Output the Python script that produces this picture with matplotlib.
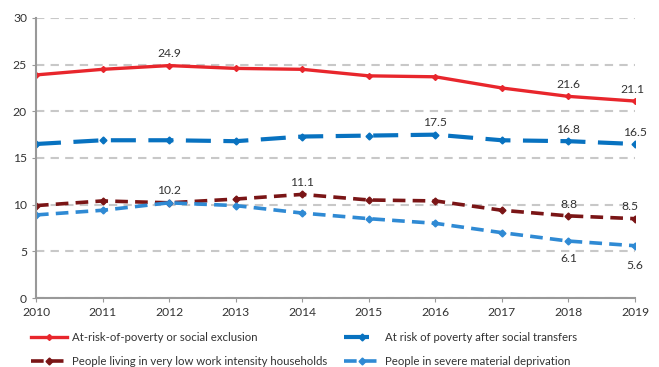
import matplotlib.pyplot as plt

plt.rcParams['font.family'] = ['Lato', 'DejaVu Sans']

years = [2010, 2011, 2012, 2013, 2014, 2015, 2016, 2017, 2018, 2019]
arope = [23.9, 24.5, 24.9, 24.6, 24.5, 23.8, 23.7, 22.5, 21.6, 21.1]
poverty_after = [16.5, 16.9, 16.9, 16.8, 17.3, 17.4, 17.5, 16.9, 16.8, 16.5]
low_work = [9.9, 10.4, 10.2, 10.6, 11.1, 10.5, 10.4, 9.4, 8.8, 8.5]
deprivation = [8.9, 9.4, 10.2, 9.9, 9.1, 8.5, 8.0, 7.0, 6.1, 5.6]

labels = ["At-risk-of-poverty or social exclusion",
          "At risk of poverty after social transfers",
          "People living in very low work intensity households",
          "People in severe material deprivation"]

fig = plt.figure(figsize=(6.59, 3.67), dpi=100)
ax = fig.add_axes([0.0546, 0.188, 0.909, 0.763])

l1, = ax.plot(years, arope, color="#E8262C", lw=2.4, marker="D", ms=3)
l2, = ax.plot(years, poverty_after, color="#0872C0", lw=3, marker="D", ms=3.5,
              dashes=(6, 3))
l3, = ax.plot(years, low_work, color="#7A1516", lw=2.6, marker="D", ms=3.5,
              dashes=(3.5, 2))
l4, = ax.plot(years, deprivation, color="#2F8AD4", lw=2.6, marker="D", ms=3.5,
              dashes=(3.5, 2))

ax.set_xlim(2010, 2019)
ax.set_ylim(0, 30)
ax.set_xticks(years)
ax.set_yticks(range(0, 31, 5))
ax.tick_params(labelsize=8.7, colors="#333333", length=3)
ax.tick_params(axis="both", color="#999999")
ax.yaxis.grid(True, color="#C8C8C8", lw=1.5, dashes=(4, 3))
ax.set_axisbelow(True)
for s in ("top", "right"):
    ax.spines[s].set_visible(False)
for s in ("left", "bottom"):
    ax.spines[s].set_color("#999999")
    ax.spines[s].set_linewidth(1.5)

# data labels (x offset in points, y offset in points)
ann = [(2012, 24.9, 0, 6), (2018, 21.6, 0, 6), (2019, 21.1, -2, 6),
       (2016, 17.5, 0, 6), (2018, 16.8, 0, 6), (2019, 16.5, 0, 6),
       (2012, 10.2, 0, 6), (2014, 11.1, 0, 6), (2018, 8.8, 0, 6),
       (2019, 8.5, -4, 6), (2018, 6.1, 0, -15), (2019, 5.6, 0, -17)]
for x, y, dx, dy in ann:
    ax.annotate(f"{y:.1f}", (x, y), xytext=(dx, dy), textcoords="offset points",
                ha="center", fontsize=8.7, color="#333333")

# legend as two separate columns so the second column sits where it should
leg_kw = dict(loc="lower left", frameon=False, fontsize=8.2, handlelength=3.2,
              handletextpad=0.4, labelspacing=1.1, labelcolor="#333333",
              borderaxespad=0)
fig.legend([l1, l3], [labels[0], labels[2]],
           bbox_to_anchor=(0.04, -0.012), **leg_kw)
fig.legend([l2, l4], [labels[1], labels[3]],
           bbox_to_anchor=(0.515, -0.012), **leg_kw)

fig.savefig("out.png", dpi=100)
